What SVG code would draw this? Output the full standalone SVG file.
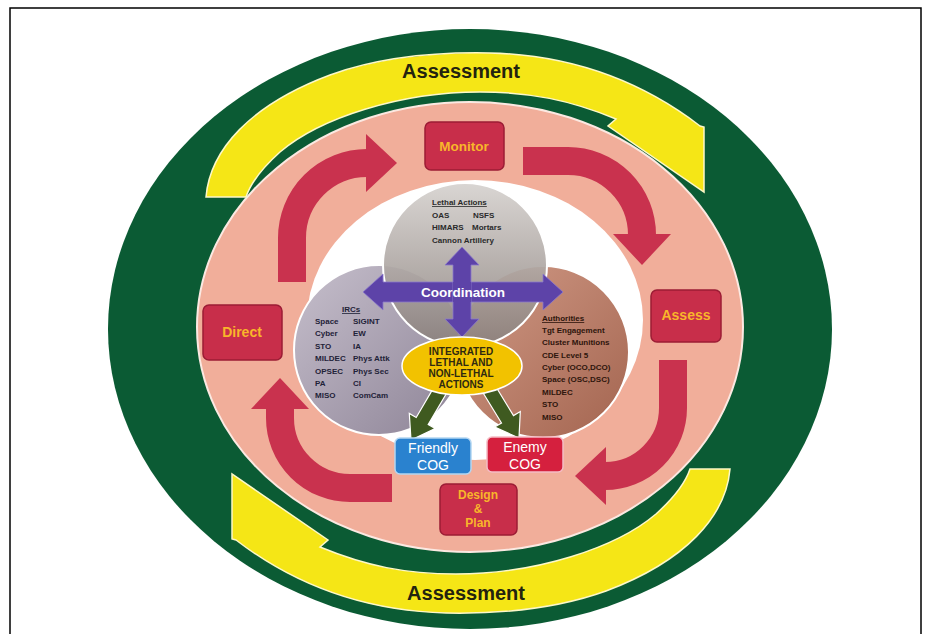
<svg xmlns="http://www.w3.org/2000/svg" width="929" height="634" viewBox="0 0 929 634">
<defs>
<style>
.box{fill:#c82e4a;stroke:#9c1c35;stroke-width:1.5}
.boxtxt{font-family:"Liberation Sans",Arial,sans-serif;font-weight:bold;font-size:14px;fill:#f8b62a;text-anchor:middle}
.cog{font-family:"Liberation Sans",Arial,sans-serif;font-size:14px;fill:#ffffff;text-anchor:middle}
.sm{font-family:"Liberation Sans",Arial,sans-serif;font-weight:bold;font-size:8px}
.assess{font-family:"Liberation Sans",Arial,sans-serif;font-weight:bold;font-size:20px;fill:#23230f;text-anchor:middle}
.red{fill:none;stroke:#c9324e;stroke-width:28}
.yellow{fill:#f5e616;stroke:#fdf8c8;stroke-width:1.5}
.garrow{fill:#3f5a20;stroke:#ffffff;stroke-width:1.2}
</style>
<marker id="redHead" markerUnits="userSpaceOnUse" markerWidth="32" markerHeight="60" viewBox="0 0 32 60" refX="1" refY="30" orient="auto">
<path d="M0,1 L31,30 L0,59 Z" fill="#c9324e"/>
</marker>
<linearGradient id="gGray" x1="0" y1="0" x2="0" y2="1">
<stop offset="0" stop-color="#d6d2cf"/><stop offset="1" stop-color="#8a807c"/>
</linearGradient>
<linearGradient id="gLeft" x1="0" y1="0" x2="1" y2="1">
<stop offset="0" stop-color="#c6bfcc"/><stop offset="1" stop-color="#8d8396"/>
</linearGradient>
<linearGradient id="gRight" x1="0" y1="0" x2="1" y2="1">
<stop offset="0" stop-color="#cf9580"/><stop offset="1" stop-color="#9e5c46"/>
</linearGradient>
<path id="yArrow" d="M206,197 C210,150 250,105 330,75 C380,57 440,52 490,53 C570,55 640,80 700,126 L704,127 L704,192 L608,126 L616,119 C570,100 530,92 480,92 C400,92 320,118 280,152 C260,170 250,185 246,197 Z"/>
</defs>

<rect x="0" y="0" width="929" height="634" fill="#ffffff"/>
<path d="M10,634 V8 H921 V634" fill="none" stroke="#000000" stroke-width="1.5"/>

<g id="background">
<ellipse cx="470" cy="329" rx="362" ry="300" fill="#0b5b34"/>
<ellipse cx="470" cy="327" rx="273" ry="225" fill="#f1ae9a" stroke="#fbe9e2" stroke-width="2"/>
<ellipse cx="475" cy="320" rx="168" ry="140" fill="#ffffff"/>
</g>

<g id="assessment-cycle">
<use href="#yArrow" class="yellow"/>
<use href="#yArrow" class="yellow" transform="rotate(180 468 333)"/>
<text class="assess" x="461" y="78">Assessment</text>
<text class="assess" x="466" y="600">Assessment</text>
</g>

<g id="node-ircs">
<circle cx="379" cy="350" r="85" fill="url(#gLeft)" stroke="#ffffff" stroke-width="2"/>
<g class="sm" fill="#1f2238">
<text x="342" y="312" text-decoration="underline">IRCs</text>
<text x="315" y="324">Space</text><text x="353" y="324">SIGINT</text>
<text x="315" y="336">Cyber</text><text x="353" y="336">EW</text>
<text x="315" y="349">STO</text><text x="353" y="349">IA</text>
<text x="315" y="361">MILDEC</text><text x="353" y="361">Phys Attk</text>
<text x="315" y="374">OPSEC</text><text x="353" y="374">Phys Sec</text>
<text x="315" y="386">PA</text><text x="353" y="386">CI</text>
<text x="315" y="398">MISO</text><text x="353" y="398">ComCam</text>
</g>
</g>

<g id="node-authorities">
<circle cx="543" cy="352" r="86" fill="url(#gRight)" fill-opacity="0.95" stroke="#ffffff" stroke-width="2"/>
<g class="sm" fill="#2e150c">
<text x="542" y="321" text-decoration="underline">Authorities</text>
<text x="542" y="333">Tgt Engagement</text>
<text x="542" y="345">Cluster Munitions</text>
<text x="542" y="358">CDE Level 5</text>
<text x="542" y="370">Cyber (OCO,DCO)</text>
<text x="542" y="382">Space (OSC,DSC)</text>
<text x="542" y="395">MILDEC</text>
<text x="542" y="407">STO</text>
<text x="542" y="420">MISO</text>
</g>
</g>

<g id="node-lethal">
<circle cx="465" cy="265" r="82" fill="url(#gGray)" fill-opacity="0.92" stroke="#ffffff" stroke-width="2"/>
<g class="sm" fill="#2a2a2a">
<text x="432" y="205" text-decoration="underline">Lethal Actions</text>
<text x="432" y="218">OAS</text><text x="473" y="218">NSFS</text>
<text x="432" y="230">HIMARS</text><text x="472" y="230">Mortars</text>
<text x="432" y="243">Cannon Artillery</text>
</g>
</g>

<g id="node-coordination">
<polygon points="363,292 383,274 383,282 543,282 543,274 563,292 543,310 543,302 383,302 383,310" fill="#5d43a8" stroke="#8c7acb" stroke-width="0.8"/>
<polygon points="462,247 479,265 471,265 471,319 479,319 462,337 445,319 453,319 453,265 445,265" fill="#5d43a8" stroke="#8c7acb" stroke-width="0.8"/>
<rect x="453" y="282" width="18" height="20" fill="#5d43a8"/>
<text x="463" y="297" style="font-family:'Liberation Sans',Arial,sans-serif;font-weight:bold;font-size:13.5px;fill:#ffffff;text-anchor:middle">Coordination</text>
</g>

<g id="connectors">
<path class="red" d="M292,282 V238 A75,75 0 0 1 367,163" marker-end="url(#redHead)"/>
<path class="red" d="M523,161 H568 A74,74 0 0 1 642,235" marker-end="url(#redHead)"/>
<path class="red" d="M673,360 V408 A68,68 0 0 1 605,476" marker-end="url(#redHead)"/>
<path class="red" d="M392,488 H350 A70,70 0 0 1 280,418 V408" marker-end="url(#redHead)"/>
<polygon class="garrow" points="447.0,392.5 428.2,424.6 435.1,428.6 411,440 409.3,413.4 416.2,417.5 435.0,385.4"/>
<polygon class="garrow" points="495.0,385.3 513.5,415.6 520.3,411.5 519,438 494.7,427.1 501.5,423.0 483.0,392.7"/>
</g>

<g id="node-integrated">
<ellipse cx="462" cy="366" rx="60" ry="29" fill="#f2c200" stroke="#ffffff" stroke-width="1.5"/>
<g style="font-family:'Liberation Sans',Arial,sans-serif;font-weight:bold;font-size:10px;fill:#2f2a10;text-anchor:middle">
<text x="461" y="355">INTEGRATED</text>
<text x="461" y="366">LETHAL AND</text>
<text x="461" y="377">NON-LETHAL</text>
<text x="461" y="388">ACTIONS</text>
</g>
</g>

<g id="node-friendly">
<rect x="395" y="438" width="76" height="36" rx="5" fill="#2a82cf" stroke="#b3d6f2" stroke-width="1.5"/>
<text class="cog" x="433" y="453">Friendly</text>
<text class="cog" x="433" y="470">COG</text>
</g>

<g id="node-enemy">
<rect x="487" y="437" width="76" height="35" rx="5" fill="#d5203e" stroke="#f5bcc5" stroke-width="1.5"/>
<text class="cog" x="525" y="452">Enemy</text>
<text class="cog" x="525" y="469">COG</text>
</g>

<g id="node-monitor">
<rect class="box" x="425" y="122" width="79" height="48" rx="6"/>
<text class="boxtxt" x="464" y="151" style="font-size:13.5px">Monitor</text>
</g>

<g id="node-assess">
<rect class="box" x="651" y="290" width="70" height="52" rx="6"/>
<text class="boxtxt" x="686" y="320">Assess</text>
</g>

<g id="node-direct">
<rect class="box" x="203" y="305" width="79" height="55" rx="6"/>
<text class="boxtxt" x="242" y="337">Direct</text>
</g>

<g id="node-design">
<rect class="box" x="440" y="484" width="77" height="51" rx="6"/>
<text class="boxtxt" x="478" y="499" style="font-size:12px">Design</text>
<text class="boxtxt" x="478" y="513" style="font-size:12px">&amp;</text>
<text class="boxtxt" x="478" y="527" style="font-size:12px">Plan</text>
</g>
</svg>
